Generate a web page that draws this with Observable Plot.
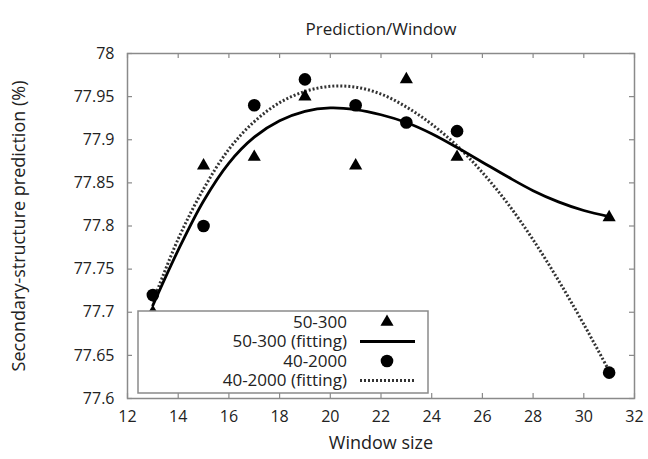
<!DOCTYPE html>
<html><head><meta charset="utf-8">
<script src="https://cdn.jsdelivr.net/npm/d3@7"></script>
<script src="https://cdn.jsdelivr.net/npm/@observablehq/plot@0.6"></script>
<style>
body{margin:0;background:#fff;}
#wrap{position:relative;width:648px;height:459px;}
</style></head><body><div id="wrap"></div>
<script>
// ---- data ----
const windowSizes = [13, 15, 17, 19, 21, 23, 25, 31];
const series50_300 = [77.70, 77.87, 77.88, 77.95, 77.87, 77.97, 77.88, 77.81];
const series40_2000 = [77.72, 77.80, 77.94, 77.97, 77.94, 77.92, 77.91, 77.63];
const fitX = [13, 14, 15, 16, 17, 18, 19, 20, 21, 22, 23, 24, 25, 26, 27, 28, 29, 30, 31];
const fit50_300 = [77.708, 77.772, 77.829, 77.873, 77.903, 77.922, 77.933, 77.937, 77.935, 77.929, 77.920, 77.907, 77.891, 77.874, 77.857, 77.841, 77.828, 77.818, 77.811];
const fit40_2000 = [77.712, 77.785, 77.843, 77.889, 77.921, 77.943, 77.956, 77.962, 77.961, 77.953, 77.938, 77.918, 77.893, 77.862, 77.826, 77.784, 77.737, 77.686, 77.632];
const xTicks = [12, 14, 16, 18, 20, 22, 24, 26, 28, 30, 32];
const yTicks = [77.6, 77.65, 77.7, 77.75, 77.8, 77.85, 77.9, 77.95, 78];
const legendLabels = ["50-300", "50-300 (fitting)", "40-2000", "40-2000 (fitting)"];
const titleText = "Prediction/Window";
const xLabel = "Window size";
const yLabel = "Secondary-structure prediction (%)";

const pts50 = windowSizes.map((x, i) => ({x, y: series50_300[i]}));
const pts40 = windowSizes.map((x, i) => ({x, y: series40_2000[i]}));
const fit50 = fitX.map((x, i) => ({x, y: fit50_300[i]}));
const fit40 = fitX.map((x, i) => ({x, y: fit40_2000[i]}));

const W = 648, H = 459, ML = 127, MR = 14, MT = 53, MB = 61;
const FW = W - ML - MR, FH = H - MT - MB;
const gray = "#8a8a8a";
const font = "'Open Sans', sans-serif";
const triR = Math.sqrt(75 / Math.PI);
const dotDash = "2,2";

const chart = Plot.plot({
  width: W, height: H,
  marginLeft: ML, marginRight: MR, marginTop: MT, marginBottom: MB,
  style: {fontFamily: font, fontSize: "16px", color: "#222", background: "#fff"},
  x: {domain: [12, 32]},
  y: {domain: [77.6, 78]},
  marks: [
    Plot.frame({stroke: gray, strokeWidth: 1.5}),
    Plot.tickX(xTicks, {x: d => d, insetTop: FH - 5, stroke: gray, strokeWidth: 1.2}),
    Plot.tickX(xTicks, {x: d => d, insetBottom: FH - 5, stroke: gray, strokeWidth: 1.2}),
    Plot.tickY(yTicks, {y: d => d, insetRight: FW - 5, stroke: gray, strokeWidth: 1.2}),
    Plot.tickY(yTicks, {y: d => d, insetLeft: FW - 5, stroke: gray, strokeWidth: 1.2}),
    Plot.axisX({ticks: xTicks, tickSize: 0, tickPadding: 12, label: null, fontSize: 16, fill: "#222"}),
    Plot.axisY({ticks: yTicks, tickSize: 0, tickPadding: 13, label: null, fontSize: 16, fill: "#222",
      tickFormat: d => String(+d.toFixed(2))}),
    Plot.line(fit40, {x: "x", y: "y", curve: "catmull-rom", stroke: "#333", strokeWidth: 3,
      strokeDasharray: dotDash, strokeLinecap: "butt", strokeLinejoin: "miter"}),
    Plot.line(fit50, {x: "x", y: "y", curve: "catmull-rom", stroke: "#000", strokeWidth: 2.8}),
    Plot.dot(pts50, {x: "x", y: "y", symbol: "triangle", r: triR, fill: "#000", stroke: "none"}),
    Plot.dot(pts40, {x: "x", y: "y", symbol: "circle", r: 6.3, fill: "#000", stroke: "none"}),
    Plot.text([titleText], {frameAnchor: "top", dy: -31, fontSize: 17, fill: "#222"}),
    Plot.text([xLabel], {frameAnchor: "bottom", dy: 50, fontSize: 18, fill: "#222"}),
    Plot.text([yLabel], {frameAnchor: "left", dx: -108, rotate: -90, textAnchor: "middle", fontSize: 18, fill: "#222"})
  ]
});
document.getElementById("wrap").appendChild(chart);

// ---- legend box ----
const svg = d3.select(chart);
const lg = svg.append("g").attr("font-family", font).attr("font-size", 17).attr("fill", "#222");
lg.append("rect").attr("x", 138).attr("y", 311).attr("width", 290).attr("height", 82)
  .attr("fill", "#fff").attr("stroke", gray).attr("stroke-width", 1.5);
const rowsY = [322, 341.5, 361, 380.5];
legendLabels.forEach((t, i) => {
  lg.append("text").attr("x", 347).attr("y", rowsY[i]).attr("text-anchor", "end")
    .attr("dy", "0.35em").text(t);
});
lg.append("path").attr("transform", `translate(387,${rowsY[0]})`)
  .attr("d", d3.symbol(d3.symbolTriangle, 75)()).attr("fill", "#000");
lg.append("line").attr("x1", 360).attr("x2", 415).attr("y1", rowsY[1]).attr("y2", rowsY[1])
  .attr("stroke", "#000").attr("stroke-width", 2.8);
lg.append("circle").attr("cx", 387).attr("cy", rowsY[2]).attr("r", 6.3).attr("fill", "#000");
lg.append("line").attr("x1", 360).attr("x2", 415).attr("y1", rowsY[3]).attr("y2", rowsY[3])
  .attr("stroke", "#333").attr("stroke-width", 3).attr("stroke-dasharray", dotDash);
</script></body></html>
